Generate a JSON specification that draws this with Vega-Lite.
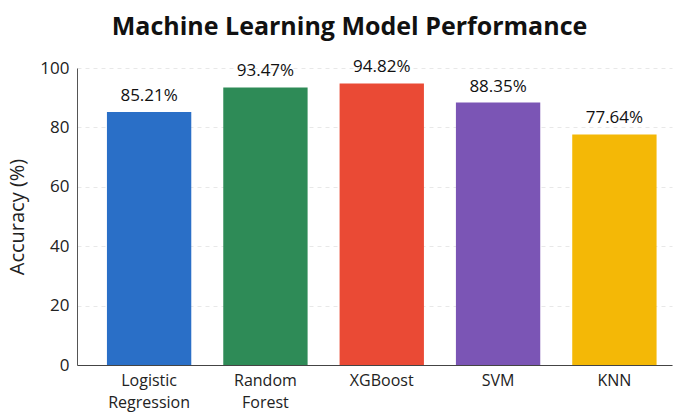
{
  "$schema": "https://vega.github.io/schema/vega-lite/v6.json",
  "width": 595,
  "height": 297,
  "autosize": "none",
  "padding": {"left": 77, "top": 68, "right": 26, "bottom": 55},
  "background": "white",
  "title": {
    "text": "Machine Learning Model Performance",
    "fontSize": 25,
    "font": "Open Sans",
    "fontWeight": "bold",
    "color": "#111111",
    "dx": -25,
    "offset": 18
  },
  "config": {
    "view": {"stroke": null},
    "font": "Open Sans"
  },
  "data": {
    "values": [
      {"Model": "Logistic Regression", "Accuracy": 85.21, "Label": "85.21%"},
      {"Model": "Random Forest", "Accuracy": 93.47, "Label": "93.47%"},
      {"Model": "XGBoost", "Accuracy": 94.82, "Label": "94.82%"},
      {"Model": "SVM", "Accuracy": 88.35, "Label": "88.35%"},
      {"Model": "KNN", "Accuracy": 77.64, "Label": "77.64%"}
    ]
  },
  "encoding": {
    "x": {
      "field": "Model",
      "type": "nominal",
      "sort": null,
      "scale": {"paddingInner": 0.275, "paddingOuter": 0.195, "align": 0.66},
      "axis": {
        "title": null,
        "labelAngle": 0,
        "labelExpr": "split(datum.label, ' ')",
        "labelFontSize": 16,
        "labelColor": "#222222",
        "labelPadding": 7,
        "labelLineHeight": 22,
        "ticks": false,
        "domainColor": "#444444",
        "domainWidth": 1.2
      }
    },
    "y": {
      "field": "Accuracy",
      "type": "quantitative",
      "scale": {"domain": [0, 100]},
      "axis": {
        "title": "Accuracy (%)",
        "titleFontSize": 20,
        "titleFontWeight": "normal",
        "titleColor": "#222222",
        "titlePadding": 12,
        "values": [0, 20, 40, 60, 80, 100],
        "labelFontSize": 17,
        "labelColor": "#222222",
        "labelPadding": 8,
        "ticks": false,
        "domainColor": "#555555",
        "grid": true,
        "gridColor": "#e8e8e8",
        "gridDash": [4, 4]
      }
    }
  },
  "layer": [
    {
      "mark": {"type": "bar"},
      "encoding": {
        "color": {
          "field": "Model",
          "type": "nominal",
          "legend": null,
          "scale": {
            "domain": ["Logistic Regression", "Random Forest", "XGBoost", "SVM", "KNN"],
            "range": ["#2a6fc7", "#2e8b57", "#ea4a35", "#7b55b5", "#f4b806"]
          }
        }
      }
    },
    {
      "mark": {"type": "text", "dy": -16, "fontSize": 17, "color": "#111111"},
      "encoding": {"text": {"field": "Label"}}
    }
  ]
}
